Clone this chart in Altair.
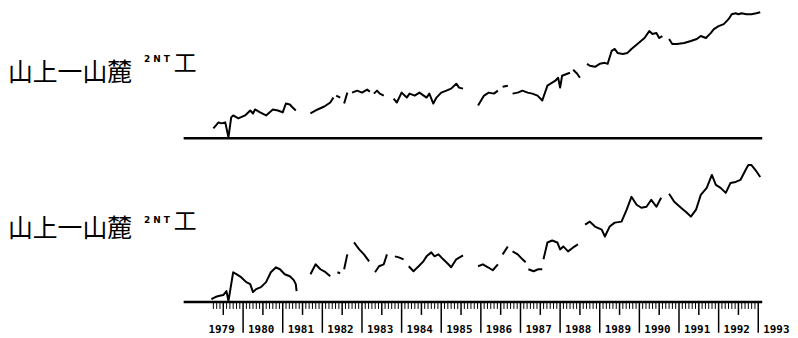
import altair as alt
import pandas as pd

# ---------------- data (decimal year, index level above baseline) ----------------
top_x = [1979.25, 1979.38, 1979.45, 1979.55, 1979.63, 1979.70, 1979.75, 1979.88, 1980.05, 1980.18, 1980.25,
         1980.30, 1980.43, 1980.58, 1980.75, 1980.88, 1981.00, 1981.08, 1981.18, 1981.25, 1981.33,
         1981.70, 1981.88, 1982.05, 1982.20, 1982.28,
         1982.35, 1982.45,
         1982.55, 1982.63,
         1982.75, 1982.88, 1983.00, 1983.13, 1983.20,
         1983.30, 1983.38, 1983.45, 1983.55,
         1983.80, 1983.88, 1984.00, 1984.13, 1984.20, 1984.33, 1984.45, 1984.63, 1984.70, 1984.80, 1984.88,
         1985.00, 1985.13, 1985.25, 1985.38, 1985.45, 1985.55,
         1985.93, 1986.08, 1986.20, 1986.33, 1986.43,
         1986.55, 1986.68,
         1986.80, 1986.93, 1987.05, 1987.18, 1987.30, 1987.43, 1987.55, 1987.68, 1987.80, 1987.88, 1987.95,
         1988.00, 1988.05, 1988.18, 1988.25,
         1988.33, 1988.43, 1988.50,
         1988.68, 1988.75, 1988.88, 1989.00, 1989.13, 1989.20, 1989.30, 1989.38, 1989.45, 1989.58, 1989.70,
         1989.80, 1989.95, 1990.13, 1990.25, 1990.33, 1990.43, 1990.50, 1990.58,
         1990.75, 1990.83, 1990.95, 1991.13, 1991.30, 1991.45, 1991.55, 1991.68, 1991.80, 1991.88, 1992.00,
         1992.13, 1992.25, 1992.33, 1992.43, 1992.50, 1992.58, 1992.70, 1992.83, 1992.95, 1993.05]
top_y = [10, 16, 15, 16, 1, 21, 23, 20, 23, 28, 25,
         29, 26, 23, 29, 28, 26, 35, 34, 31, 28,
         25, 29, 32, 36, 41,
         43, 41,
         35, 46,
         46, 48, 46, 49, 47,
         45, 48, 45, 43,
         40, 36, 46, 41, 45, 43, 46, 41, 45, 35, 41,
         46, 48, 50, 55, 51, 50,
         33, 43, 46, 45, 48,
         52, 53,
         45, 46, 48, 46, 45, 43, 38, 53, 56, 58, 61,
         51, 63, 65, 66,
         69, 65, 61,
         75, 73, 72, 75, 76, 75, 88, 90, 86, 85, 86,
         90, 95, 101, 108, 105, 106, 101, 103,
         100, 95, 95, 96, 98, 100, 103, 101, 106, 110, 113,
         115, 120, 125, 126, 125, 126, 125, 125, 126, 127]
top_seg = ([1] * 21 + [2] * 5 + [3] * 2 + [4] * 2 + [5] * 5 + [6] * 4 + [7] * 17 + [8] * 5 + [9] * 2
           + [10] * 15 + [11] * 3 + [12] * 19 + [13] * 21)

bot_x = [1979.20, 1979.30, 1979.38, 1979.50, 1979.58, 1979.63, 1979.68, 1979.75, 1979.83, 1979.95, 1980.08,
         1980.18, 1980.25, 1980.33, 1980.45, 1980.58, 1980.70, 1980.83, 1980.93, 1981.05, 1981.18, 1981.28,
         1981.33, 1981.35,
         1981.70, 1981.83, 1981.95, 1982.08, 1982.20,
         1982.38, 1982.45,
         1982.55, 1982.63,
         1982.80, 1982.93, 1983.05, 1983.18,
         1983.33, 1983.43, 1983.55, 1983.63,
         1983.83, 1983.93, 1984.05,
         1984.18, 1984.30, 1984.43, 1984.55, 1984.63, 1984.75, 1984.83, 1984.93, 1985.05, 1985.18, 1985.25,
         1985.38, 1985.55,
         1985.93, 1986.05, 1986.18, 1986.30, 1986.43,
         1986.55, 1986.68,
         1986.80, 1986.93, 1987.05, 1987.13,
         1987.20, 1987.33, 1987.45, 1987.55,
         1987.58, 1987.68, 1987.80, 1987.93, 1988.00, 1988.08, 1988.20, 1988.33, 1988.45,
         1988.63, 1988.75, 1988.88, 1989.05, 1989.13, 1989.25, 1989.38, 1989.55, 1989.68, 1989.80, 1989.93,
         1990.05, 1990.18, 1990.30, 1990.43, 1990.55,
         1990.75, 1990.88, 1991.05, 1991.20, 1991.30, 1991.43, 1991.55, 1991.70, 1991.83, 1991.93, 1992.05,
         1992.18, 1992.30, 1992.43, 1992.55, 1992.68, 1992.75, 1992.83, 1992.93, 1993.05]
bot_y = [3, 5, 6, 7, 11, 1, 13, 30, 28, 25, 20,
         18, 10, 13, 15, 20, 30, 35, 33, 28, 26, 22,
         18, 11,
         28, 38, 33, 30, 26,
         30, 29,
         33, 48,
         60, 53, 48, 41,
         30, 36, 38, 48,
         46, 45, 43,
         36, 31, 36, 41, 46, 50, 46, 48, 43, 38, 35,
         43, 47,
         36, 38, 35, 32, 38,
         48, 56,
         51, 48, 43, 40,
         33, 31, 33, 33,
         43, 60, 62, 60, 53, 56, 51, 55, 58,
         78, 81, 76, 73, 66, 76, 80, 81, 93, 106, 98,
         95, 96, 103, 96, 105,
         109, 101, 95, 90, 86, 93, 108, 115, 128, 118, 115,
         110, 120, 121, 123, 133, 138, 138, 133, 126]
bot_seg = ([1] * 24 + [2] * 5 + [3] * 2 + [4] * 2 + [5] * 4 + [6] * 4 + [7] * 3 + [8] * 13 + [9] * 5
           + [10] * 2 + [11] * 4 + [12] * 4 + [13] * 9 + [14] * 16 + [15] * 20)

year_labels = [str(y) for y in range(1979, 1994)]
label_main = "山上一山麓"
label_sup = "2 N T"
label_end = "工"

# ---------------- chart ----------------
W = 583
X_DOM = [1978.5, 1993.1]


def panel(xs, ys, segs, h, dom, y_main, y_sup, y_end, ruler=False):
    xscale = alt.Scale(domain=X_DOM, nice=False, zero=False)
    yscale = alt.Scale(domain=[0, dom], nice=False, zero=False)
    df = pd.DataFrame({"t": xs, "v": ys, "seg": segs})
    zero_df = pd.DataFrame({"t": [X_DOM[0], X_DOM[1]], "v": [0, 0]})
    one = pd.DataFrame({"k": [0]})
    line = alt.Chart(df).mark_line(color="black", strokeWidth=2, strokeJoin="round").encode(
        x=alt.X("t:Q", scale=xscale, axis=None),
        y=alt.Y("v:Q", scale=yscale, axis=None),
        detail="seg:N",
        order="t:Q",
    )
    base = alt.Chart(zero_df).mark_line(color="black", strokeWidth=2.5).encode(
        x=alt.X("t:Q", scale=xscale, axis=None),
        y=alt.Y("v:Q", scale=yscale, axis=None),
    )
    t1 = alt.Chart(one).mark_text(align="left", baseline="middle", font="Noto Sans CJK JP",
                                  fontSize=25, color="black").encode(
        x=alt.value(-177), y=alt.value(y_main), text=alt.value(label_main))
    t2 = alt.Chart(one).mark_text(align="left", baseline="middle", font="DejaVu Sans",
                                  fontSize=9, fontWeight="bold", color="black").encode(
        x=alt.value(-40), y=alt.value(y_sup), text=alt.value(label_sup))
    t3 = alt.Chart(one).mark_text(align="left", baseline="middle", font="Noto Sans CJK JP",
                                  fontSize=23, color="black").encode(
        x=alt.value(-10), y=alt.value(y_end), text=alt.value(label_end))
    layers = [base, line, t1, t2, t3]
    if ruler:
        months = [1979 + m / 12 for m in range(3, 169) if m % 6 != 0]
        halves = [1979 + m / 12 for m in range(6, 169, 12)]
        years = [float(y) for y in range(1980, 1994)]
        for vals, ln, sw in ((months, 7, 1), (halves, 13, 1.5), (years, 31, 1.5)):
            layers.append(alt.Chart(pd.DataFrame({"t": vals})).mark_rule(color="black", strokeWidth=sw).encode(
                x=alt.X("t:Q", scale=xscale, axis=None),
                y=alt.value(h), y2=alt.value(h + ln)))
        lab = pd.DataFrame({"t": [float(y) for y in year_labels], "lab": year_labels})
        layers.append(alt.Chart(lab).mark_text(align="left", baseline="middle", dx=5,
                                               font="DejaVu Sans Mono", fontWeight="bold",
                                               fontSize=11, color="black").encode(
            x=alt.X("t:Q", scale=xscale, axis=None), y=alt.value(h + 28), text="lab:N"))
    return alt.layer(*layers).properties(width=W, height=h)


top = panel(top_x, top_y, top_seg, 130, 130, 64, 50, 55)
bottom = panel(bot_x, bot_y, bot_seg, 141, 141, 67, 58, 60, ruler=True)

chart = alt.vconcat(top, bottom, spacing=19).properties(
    padding=0, background="white"
).configure_view(stroke=None)

chart.save("out.html", embed_options={"renderer": "svg", "actions": False})
